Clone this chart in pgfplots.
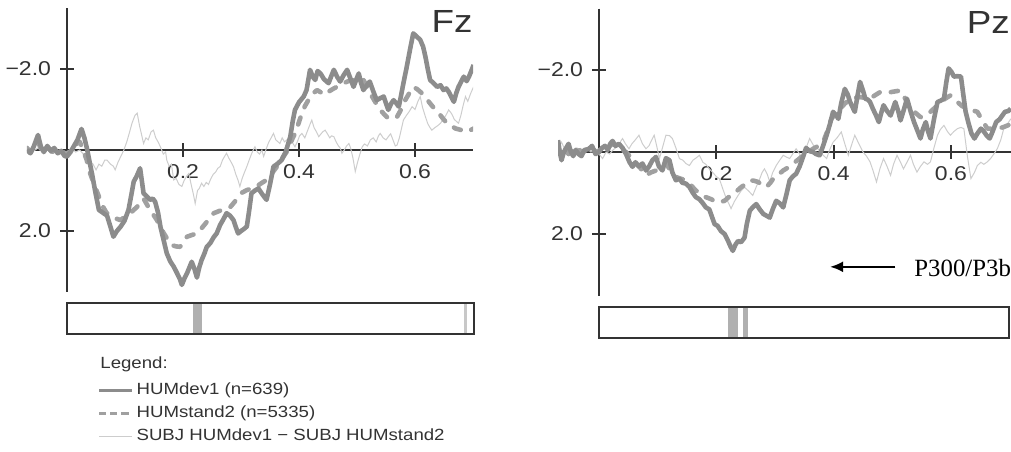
\documentclass[border=0pt]{standalone}
\usepackage{fontspec}
\setmainfont[FakeStretch=1.15]{Liberation Sans}
\newfontfamily\seriffont{Liberation Serif}
\usepackage{pgfplots}
\pgfplotsset{compat=1.18}
\usetikzlibrary{arrows.meta}
\definecolor{axc}{HTML}{333333}
\definecolor{solidc}{HTML}{8C8C8C}
\definecolor{dashc}{HTML}{A0A0A0}
\definecolor{thinc}{HTML}{CDCDCD}
\definecolor{sigc}{HTML}{B0B0B0}
\definecolor{sigl}{HTML}{C8C8C8}
\pgfplotsset{
  erp/.style={
    scale only axis, axis lines=middle,
    axis line style={axc, line width=0.9pt, -},
    y dir=reverse, ymin=-3.5, ymax=3.5,
    xtick={0.2,0.4,0.6}, xticklabels={0.2,0.4,0.6},
    ytick={-2,2}, yticklabels={−2.0,2.0},
    tick style={axc, line width=0.9pt},
    xtick align=center, ytick align=center,
    major tick length=7pt,
    ticklabel style={font=\fontsize{10}{12}\selectfont, text=axc},
    yticklabel style={xshift=-1pt},
    clip mode=individual,
  },
  sig/.style={
    scale only axis, anchor=south west, ymin=0, ymax=1, xmin=0,
    axis line style={axc, line width=1pt}, ticks=none, axis on top,
  },
  solidp/.style={solidc, line width=2.3pt, line join=round},
  dashp/.style={dashc, line width=2.3pt, line cap=round, line join=round, dash pattern=on 3.6pt off 5.6pt},
  thinp/.style={thinc, line width=0.5pt},
}
\begin{document}
\begin{tikzpicture}
\useasboundingbox (0,0) rectangle (505.5pt,-225.5pt);
% ---------------- Fz ----------------
\begin{axis}[erp, at={(13.5pt,-145.875pt)}, anchor=south west,
  width=223pt, height=141.75pt, xmin=-0.069, xmax=0.70,
  legend image code/.code={\draw[#1] (0pt,0pt) -- (16.5pt,0pt);},
  legend cell align=left,
  legend style={at={(0.157,-0.313)}, anchor=north west, draw=none, fill=none,
    inner sep=0pt, row sep=2.2pt, font=\fontsize{8.1}{10}\selectfont, text=axc,
    nodes={inner xsep=1.5pt, inner ysep=1pt}},
]
\addlegendimage{solidc, line width=1.6pt}
\addlegendentry{HUMdev1 (n=639)}
\addlegendimage{dashc, line width=1.6pt, dash pattern=on 3.6pt off 2pt}
\addlegendentry{HUMstand2 (n=5335)}
\addlegendimage{thinc, line width=0.5pt}
\addlegendentry{SUBJ HUMdev1 − SUBJ HUMstand2}
\addplot[thinp, forget plot] table {
-0.069 0.00
-0.060 0.05
-0.050 -0.05
-0.040 0.05
-0.030 -0.02
-0.020 0.05
-0.010 0.00
0.000 0.05
0.008 -0.05
0.015 0.05
0.022 0.00
0.028 0.10
0.033 0.08
0.040 0.30
0.045 0.35
0.050 0.49
0.055 0.35
0.060 0.40
0.065 0.25
0.069 0.25
0.075 0.35
0.080 0.40
0.083 0.49
0.088 0.30
0.093 0.15
0.098 0.00
0.103 -0.20
0.108 -0.45
0.112 -0.66
0.117 -0.85
0.121 -0.91
0.125 -0.60
0.129 -0.35
0.132 -0.16
0.136 -0.30
0.140 -0.25
0.145 -0.45
0.149 -0.49
0.153 -0.30
0.157 -0.20
0.161 -0.08
0.166 0.10
0.170 0.05
0.172 0.25
0.176 0.40
0.180 0.35
0.184 0.74
0.188 0.70
0.193 0.85
0.198 0.90
0.202 0.75
0.206 0.65
0.210 0.58
0.214 0.85
0.218 1.10
0.221 1.32
0.225 1.00
0.228 0.95
0.232 0.82
0.236 0.90
0.240 0.80
0.244 0.85
0.247 0.74
0.252 0.60
0.256 0.55
0.260 0.45
0.264 0.41
0.268 0.25
0.272 0.15
0.275 0.08
0.279 0.20
0.283 0.30
0.287 0.41
0.291 0.60
0.295 0.75
0.298 0.90
0.302 0.70
0.306 0.55
0.310 0.41
0.314 0.25
0.318 0.10
0.321 0.00
0.324 -0.08
0.328 0.05
0.332 0.10
0.336 0.00
0.339 0.16
0.344 -0.05
0.348 -0.20
0.352 -0.30
0.356 -0.41
0.360 -0.25
0.364 -0.20
0.367 -0.16
0.371 -0.30
0.375 -0.20
0.379 -0.25
0.383 -0.15
0.388 -0.20
0.393 -0.08
0.397 -0.20
0.401 -0.35
0.405 -0.41
0.410 -0.30
0.414 -0.45
0.418 -0.60
0.422 -0.74
0.426 -0.55
0.430 -0.45
0.434 -0.33
0.438 -0.40
0.441 -0.45
0.445 -0.49
0.449 -0.40
0.453 -0.30
0.456 -0.35
0.460 -0.33
0.464 -0.20
0.468 -0.10
0.471 -0.05
0.474 0.08
0.478 0.00
0.482 -0.10
0.486 -0.16
0.489 -0.05
0.493 0.20
0.497 0.53
0.501 0.30
0.505 0.10
0.509 -0.08
0.513 -0.15
0.518 -0.10
0.523 -0.25
0.528 -0.30
0.533 -0.20
0.537 -0.35
0.540 -0.41
0.545 -0.30
0.550 -0.25
0.554 -0.33
0.558 -0.40
0.562 -0.25
0.566 -0.10
0.569 -0.12
0.573 -0.30
0.577 -0.55
0.580 -0.74
0.585 -0.85
0.590 -0.95
0.595 -1.07
0.600 -1.00
0.605 -1.20
0.609 -1.32
0.613 -1.05
0.618 -0.82
0.622 -0.65
0.626 -0.55
0.629 -0.49
0.634 -0.55
0.639 -0.60
0.644 -0.66
0.648 -0.75
0.653 -0.85
0.658 -0.99
0.663 -0.90
0.668 -0.75
0.672 -0.70
0.675 -0.66
0.679 -0.85
0.683 -1.10
0.687 -1.32
0.691 -1.20
0.696 -1.40
0.701 -1.56
};
\addplot[dashp, forget plot] table {
-0.069 -0.05
-0.063 0.05
-0.057 -0.05
-0.050 -0.20
-0.044 0.00
-0.038 0.05
-0.032 -0.05
-0.026 0.05
-0.020 0.00
-0.014 0.10
-0.008 0.05
-0.002 0.10
0.004 0.05
0.010 -0.05
0.016 -0.15
0.022 -0.20
0.028 0.00
0.034 0.25
0.040 0.58
0.048 0.90
0.055 1.15
0.062 1.40
0.068 1.55
0.074 1.60
0.080 1.65
0.086 1.70
0.092 1.73
0.100 1.65
0.109 1.56
0.115 1.48
0.121 1.40
0.126 1.30
0.132 1.20
0.138 1.35
0.143 1.48
0.149 1.60
0.155 1.73
0.161 1.90
0.167 2.06
0.174 2.22
0.181 2.35
0.188 2.38
0.195 2.39
0.201 2.25
0.207 2.14
0.215 2.10
0.224 2.06
0.231 1.95
0.239 1.81
0.246 1.68
0.253 1.56
0.260 1.52
0.267 1.48
0.275 1.45
0.282 1.40
0.289 1.28
0.295 1.15
0.302 1.05
0.310 0.99
0.318 0.95
0.327 0.90
0.335 0.82
0.344 0.74
0.353 0.58
0.362 0.41
0.370 0.22
0.379 0.04
0.386 -0.20
0.393 -0.41
0.399 -0.65
0.405 -0.91
0.410 -1.08
0.416 -1.23
0.423 -1.38
0.431 -1.48
0.438 -1.42
0.445 -1.36
0.452 -1.45
0.460 -1.52
0.468 -1.58
0.477 -1.65
0.485 -1.70
0.494 -1.73
0.503 -1.75
0.511 -1.73
0.518 -1.55
0.526 -1.32
0.533 -1.15
0.540 -0.99
0.547 -0.88
0.554 -0.78
0.561 -0.78
0.569 -0.82
0.576 -1.00
0.583 -1.23
0.590 -1.40
0.597 -1.56
0.604 -1.50
0.612 -1.40
0.619 -1.28
0.626 -1.15
0.633 -1.03
0.641 -0.91
0.648 -0.78
0.655 -0.66
0.662 -0.60
0.670 -0.53
0.678 -0.50
0.687 -0.45
0.694 -0.48
0.701 -0.53
};
\addplot[solidp, forget plot] table {
-0.069 0.00
-0.063 0.08
-0.057 -0.10
-0.050 -0.37
-0.045 -0.08
-0.040 0.05
-0.034 -0.10
-0.028 0.02
-0.022 -0.05
-0.016 0.08
-0.010 0.02
-0.004 0.15
0.000 0.16
0.006 0.05
0.012 -0.10
0.018 -0.25
0.025 -0.52
0.030 -0.30
0.034 -0.06
0.039 0.30
0.043 0.58
0.049 1.05
0.055 1.48
0.062 1.55
0.069 1.62
0.075 1.90
0.080 2.14
0.086 2.00
0.092 1.90
0.099 1.75
0.106 1.48
0.111 1.10
0.115 0.78
0.120 0.65
0.126 0.45
0.132 1.07
0.138 1.15
0.143 1.23
0.148 1.20
0.152 1.28
0.157 1.55
0.161 1.89
0.167 2.25
0.172 2.55
0.178 2.75
0.184 2.88
0.190 3.05
0.195 3.20
0.198 3.33
0.203 3.15
0.207 3.04
0.211 2.90
0.215 2.76
0.220 2.95
0.224 3.15
0.228 2.90
0.232 2.72
0.237 2.55
0.241 2.39
0.247 2.30
0.253 2.15
0.258 2.06
0.264 1.85
0.270 1.70
0.275 1.56
0.281 1.62
0.287 1.73
0.291 1.90
0.295 2.06
0.300 2.00
0.305 1.95
0.310 1.89
0.314 1.50
0.318 1.07
0.324 1.00
0.330 0.95
0.337 1.10
0.344 1.23
0.350 0.85
0.356 0.41
0.362 0.35
0.370 0.25
0.377 0.05
0.385 -0.33
0.389 -0.70
0.393 -0.99
0.400 -1.18
0.408 -1.32
0.413 -1.48
0.419 -1.98
0.424 -1.80
0.428 -1.73
0.432 -1.95
0.437 -1.89
0.443 -1.75
0.451 -1.65
0.455 -1.80
0.460 -1.98
0.466 -1.80
0.471 -1.69
0.477 -1.85
0.483 -1.98
0.489 -1.75
0.494 -1.56
0.499 -1.75
0.503 -1.89
0.507 -1.65
0.511 -1.48
0.517 -1.60
0.522 -1.69
0.528 -1.45
0.534 -1.23
0.540 -1.28
0.546 -1.32
0.550 -1.15
0.554 -0.99
0.559 -1.15
0.563 -1.23
0.568 -1.15
0.572 -1.07
0.576 -1.35
0.580 -1.65
0.585 -2.00
0.589 -2.30
0.593 -2.60
0.597 -2.88
0.603 -2.80
0.609 -2.72
0.614 -2.55
0.618 -2.30
0.622 -2.00
0.626 -1.73
0.632 -1.65
0.638 -1.56
0.644 -1.60
0.649 -1.48
0.654 -1.52
0.658 -1.44
0.663 -1.30
0.667 -1.19
0.671 -1.40
0.675 -1.56
0.680 -1.70
0.684 -1.81
0.689 -1.70
0.693 -1.81
0.697 -1.95
0.701 -2.10
};
\node[anchor=base east, inner sep=0pt, font=\fontsize{16}{18}\selectfont, text=axc]
  at (axis cs:0.70,-2.89) {Fz};
\end{axis}
% significance box Fz
\begin{axis}[sig, at={(33.5pt,-167pt)}, width=203.5pt, height=15.5pt, xmax=0.7017]
\addplot[fill=sigc, draw=none] coordinates {(0.217,0) (0.217,1) (0.233,1) (0.233,0)} -- cycle;
\addplot[fill=sigl, draw=none] coordinates {(0.685,0) (0.685,1) (0.690,1) (0.690,0)} -- cycle;
\end{axis}
\node[anchor=west, inner sep=0pt, font=\fontsize{8.1}{10}\selectfont, text=axc] at (50pt,-182pt) {Legend:};
% ---------------- Pz ----------------
\begin{axis}[erp, at={(279pt,-147.75pt)}, anchor=south west,
  width=226.4pt, height=143.5pt, xmin=-0.070, xmax=0.702]
\addplot[thinp] table {
-0.070 -0.10
-0.064 -0.24
-0.058 -0.05
-0.050 -0.10
-0.044 -0.02
-0.038 -0.10
-0.030 -0.05
-0.022 -0.10
-0.014 0.00
-0.006 -0.05
0.000 0.05
0.006 0.16
0.012 0.00
0.018 0.05
0.023 -0.04
0.028 -0.10
0.034 -0.20
0.040 -0.33
0.045 -0.20
0.051 -0.08
0.056 -0.20
0.062 -0.30
0.068 -0.41
0.074 -0.20
0.080 -0.08
0.085 -0.15
0.090 -0.30
0.094 -0.41
0.099 -0.10
0.103 0.16
0.108 -0.10
0.114 -0.41
0.120 -0.40
0.125 -0.33
0.131 -0.10
0.137 0.16
0.143 0.20
0.148 0.28
0.154 0.33
0.160 0.20
0.165 0.15
0.171 0.08
0.177 0.25
0.182 0.30
0.188 0.41
0.194 0.50
0.200 0.60
0.205 0.65
0.211 0.90
0.217 1.14
0.221 1.25
0.225 1.38
0.231 1.20
0.237 1.06
0.242 0.95
0.248 0.86
0.255 0.95
0.262 1.06
0.268 0.85
0.274 0.65
0.278 0.50
0.282 0.41
0.287 0.55
0.291 0.73
0.296 0.50
0.302 0.33
0.308 0.20
0.314 0.08
0.319 0.12
0.325 0.16
0.330 0.05
0.336 -0.08
0.342 0.05
0.348 0.16
0.353 -0.10
0.359 -0.33
0.366 -0.15
0.373 -0.08
0.380 0.05
0.388 0.16
0.393 -0.05
0.399 -0.24
0.406 -0.35
0.413 -0.49
0.419 -0.20
0.425 0.08
0.430 -0.15
0.436 -0.41
0.443 -0.20
0.450 0.00
0.456 0.10
0.462 0.24
0.467 0.45
0.473 0.73
0.479 0.40
0.485 0.16
0.491 0.35
0.497 0.57
0.502 0.30
0.508 0.08
0.514 0.25
0.519 0.41
0.525 0.25
0.531 0.08
0.536 0.30
0.542 0.49
0.548 0.35
0.554 0.24
0.560 0.30
0.565 0.24
0.571 -0.10
0.577 -0.41
0.582 -0.55
0.588 -0.65
0.594 -0.50
0.599 -0.41
0.605 -0.50
0.611 -0.57
0.617 -0.60
0.622 -0.57
0.628 0.10
0.634 0.65
0.640 0.50
0.645 0.33
0.651 0.25
0.656 0.30
0.662 0.24
0.668 0.15
0.673 0.05
0.679 -0.08
0.685 -0.30
0.690 -0.57
0.697 -0.70
0.702 -0.81
};
\addplot[dashp] table {
-0.070 -0.10
-0.064 0.10
-0.058 -0.05
-0.052 0.05
-0.046 -0.05
-0.040 0.05
-0.034 -0.05
-0.028 0.00
-0.020 -0.05
-0.012 -0.10
-0.005 0.00
0.002 -0.05
0.008 -0.15
0.015 -0.10
0.022 -0.20
0.030 -0.15
0.038 -0.05
0.046 0.00
0.055 0.15
0.063 0.28
0.071 0.40
0.080 0.57
0.088 0.50
0.097 0.45
0.105 0.35
0.114 0.28
0.122 0.45
0.131 0.61
0.139 0.65
0.148 0.69
0.156 0.80
0.165 0.94
0.173 1.00
0.182 1.10
0.191 1.15
0.200 1.22
0.207 1.22
0.214 1.19
0.221 1.10
0.228 1.02
0.235 0.95
0.242 0.86
0.250 0.78
0.257 0.69
0.264 0.70
0.271 0.73
0.278 0.80
0.285 0.86
0.292 0.75
0.299 0.61
0.306 0.55
0.314 0.45
0.322 0.38
0.331 0.28
0.340 0.18
0.348 0.08
0.357 0.00
0.365 -0.08
0.374 -0.15
0.382 -0.24
0.389 -0.50
0.396 -0.81
0.404 -0.95
0.411 -1.06
0.419 -1.18
0.428 -1.30
0.436 -1.32
0.445 -1.34
0.454 -1.32
0.462 -1.30
0.470 -1.38
0.479 -1.46
0.488 -1.46
0.497 -1.46
0.505 -1.48
0.514 -1.50
0.522 -1.30
0.531 -1.06
0.540 -0.95
0.548 -0.85
0.557 -0.90
0.565 -0.98
0.574 -1.10
0.582 -1.22
0.590 -1.30
0.599 -1.38
0.605 -1.30
0.611 -1.22
0.619 -1.12
0.628 -1.06
0.636 -1.02
0.645 -0.98
0.653 -0.78
0.662 -0.57
0.670 -0.57
0.679 -0.57
0.685 -0.59
0.690 -0.61
0.697 -0.65
0.702 -0.69
};
\addplot[solidp] table {
-0.070 -0.29
-0.067 0.00
-0.064 0.20
-0.060 0.00
-0.056 -0.10
-0.052 -0.20
-0.048 0.00
-0.044 0.10
-0.040 -0.05
-0.035 0.05
-0.030 0.10
-0.025 -0.05
-0.018 -0.07
-0.012 -0.15
-0.006 0.05
0.000 0.00
0.005 -0.10
0.010 -0.15
0.015 -0.05
0.019 -0.20
0.023 -0.27
0.028 -0.15
0.034 -0.20
0.040 -0.10
0.046 0.05
0.052 0.25
0.057 0.36
0.062 0.25
0.068 0.35
0.074 0.28
0.080 0.45
0.085 0.36
0.091 0.20
0.097 0.12
0.102 0.35
0.108 0.45
0.114 0.15
0.120 0.20
0.125 0.50
0.131 0.69
0.137 0.65
0.142 0.75
0.148 0.77
0.154 0.85
0.160 1.00
0.165 1.10
0.171 1.15
0.177 1.25
0.182 1.35
0.188 1.40
0.193 1.60
0.197 1.76
0.202 1.80
0.208 1.93
0.214 2.00
0.220 2.17
0.224 2.30
0.228 2.41
0.233 2.25
0.237 2.17
0.242 2.20
0.248 2.09
0.252 1.75
0.257 1.43
0.262 1.35
0.268 1.27
0.274 1.40
0.280 1.51
0.285 1.55
0.291 1.60
0.296 1.40
0.302 1.19
0.308 1.25
0.314 1.35
0.320 1.00
0.325 0.69
0.330 0.60
0.336 0.53
0.342 0.35
0.347 0.15
0.353 -0.10
0.359 -0.02
0.365 0.00
0.370 0.05
0.376 0.08
0.382 -0.15
0.388 -0.41
0.394 -0.70
0.399 -0.98
0.404 -0.90
0.408 -0.81
0.413 -1.20
0.419 -1.54
0.424 -1.40
0.428 -1.22
0.432 -1.10
0.436 -0.98
0.441 -1.40
0.445 -1.71
0.450 -1.50
0.454 -1.30
0.458 -1.28
0.462 -1.22
0.467 -1.05
0.472 -0.90
0.477 -0.73
0.481 -0.95
0.485 -1.14
0.491 -1.00
0.497 -0.89
0.501 -1.05
0.505 -1.22
0.510 -1.00
0.514 -0.77
0.520 -1.05
0.525 -1.30
0.531 -1.00
0.537 -0.73
0.542 -0.55
0.548 -0.33
0.552 -0.55
0.557 -0.73
0.561 -0.50
0.565 -0.33
0.571 -0.80
0.577 -1.22
0.582 -1.25
0.588 -1.30
0.592 -1.70
0.596 -2.04
0.601 -1.95
0.605 -1.84
0.611 -1.85
0.617 -1.84
0.621 -1.40
0.625 -0.98
0.630 -0.70
0.635 -0.45
0.640 -0.33
0.645 -0.45
0.651 -0.57
0.656 -0.50
0.661 -0.40
0.666 -0.33
0.671 -0.50
0.677 -0.73
0.683 -0.80
0.688 -0.90
0.692 -0.98
0.698 -1.00
0.702 -1.06
};
\node[anchor=base east, inner sep=0pt, font=\fontsize{16}{18}\selectfont, text=axc]
  at (axis cs:0.7008,-2.9) {Pz};
\draw[black, line width=1pt, -{Latex[length=6.5pt, width=5.5pt]}]
  (axis cs:0.505,2.80) -- (axis cs:0.394,2.80);
\node[anchor=base west, inner sep=0pt, font=\seriffont\fontsize{12.4}{14}\selectfont, text=black]
  at (axis cs:0.537,3.04) {P300/P3b};
\end{axis}
% significance box Pz
\begin{axis}[sig, at={(299.5pt,-169pt)}, width=205pt, height=15.5pt, xmax=0.699]
\addplot[fill=sigc, draw=none] coordinates {(0.220,0) (0.220,1) (0.237,1) (0.237,0)} -- cycle;
\addplot[fill=sigc, draw=none] coordinates {(0.2455,0) (0.2455,1) (0.254,1) (0.254,0)} -- cycle;
\end{axis}
\end{tikzpicture}
\end{document}
